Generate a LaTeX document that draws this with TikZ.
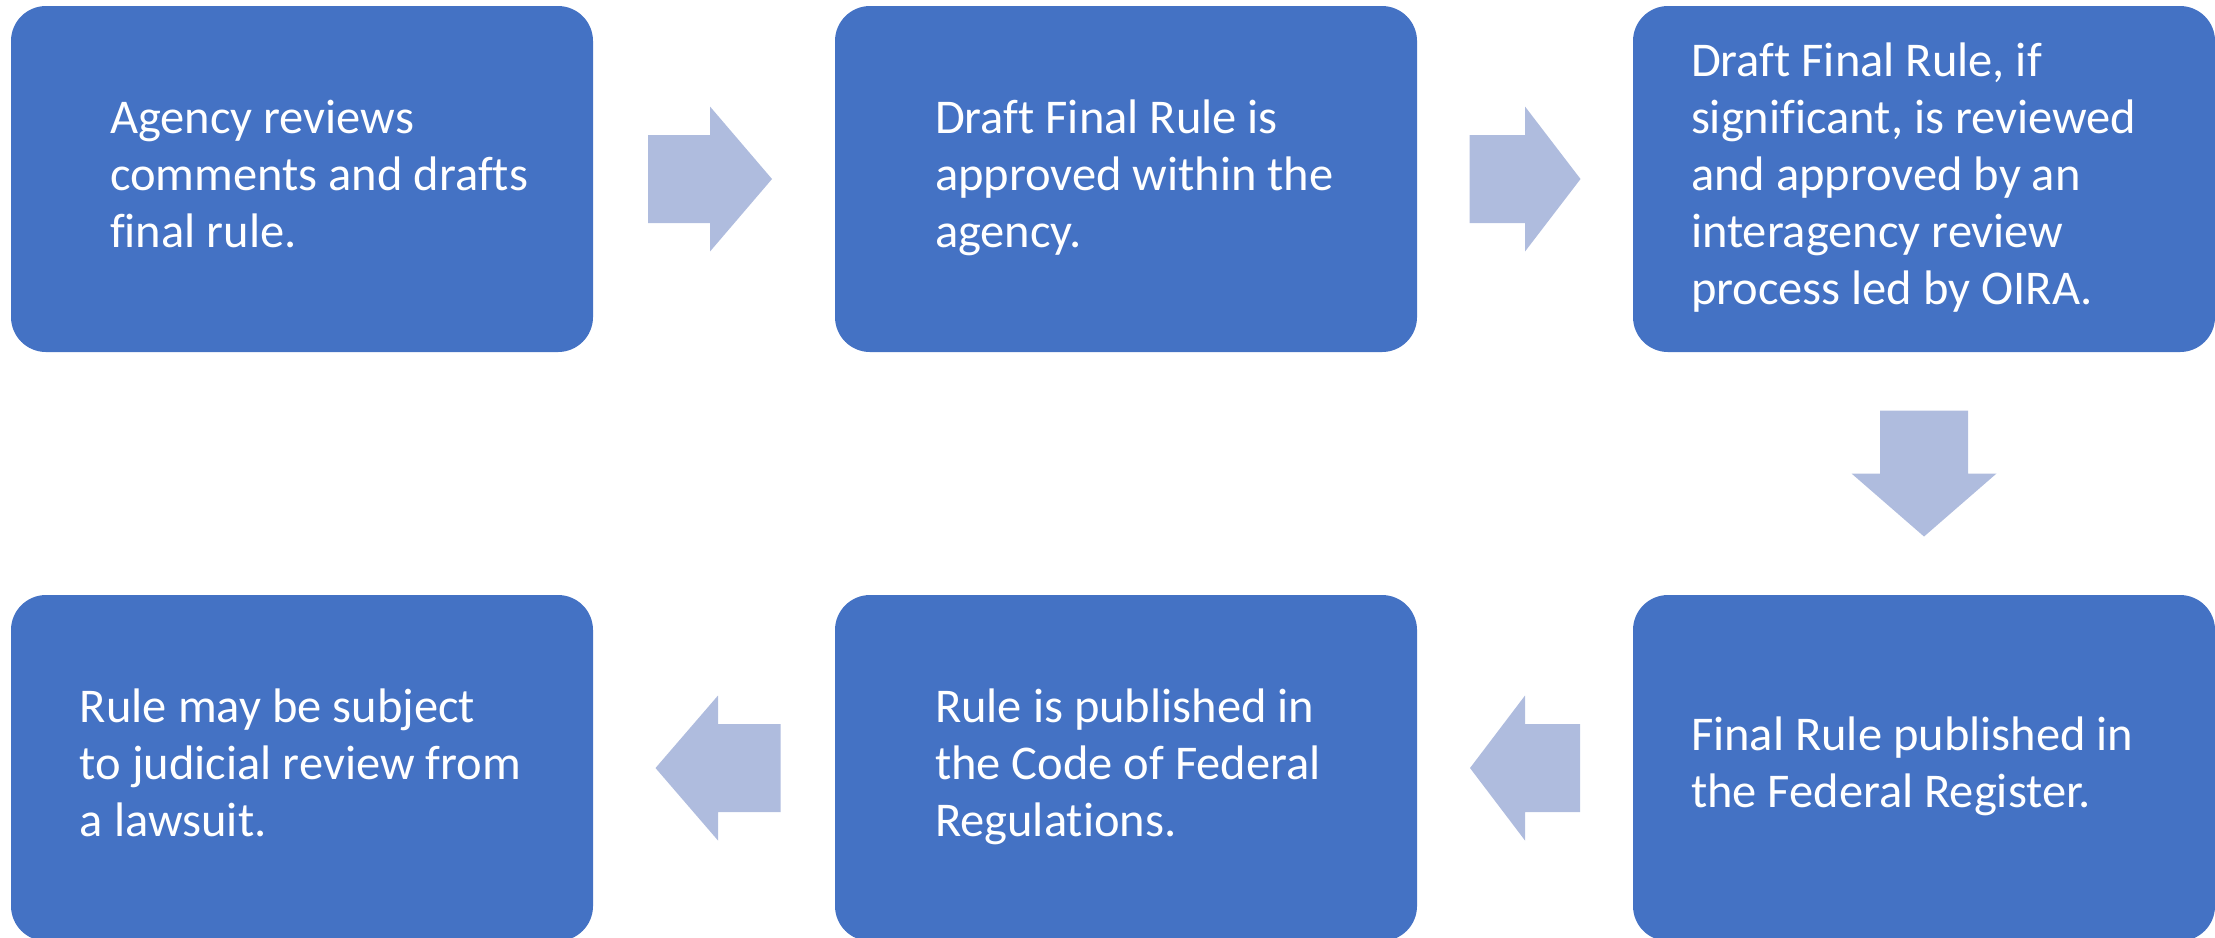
\documentclass[tikz,border=0pt]{standalone}
\usepackage{fontspec}
\setmainfont{Carlito}[Ligatures=NoCommon]
\usetikzlibrary{positioning}
\usetikzlibrary{calc}

\definecolor{stepblue}{RGB}{68,114,196}
\definecolor{flowblue}{RGB}{175,188,222}

\begin{document}
\begin{tikzpicture}
  \tikzset{stepbox/.style={fill=stepblue, rounded corners=3.5mm, minimum width=5.82cm,
                           minimum height=3.46cm, inner sep=0pt},
           steptext/.style={text=white, align=left, inner sep=0pt,
                            font=\fontsize{13.8}{16.2}\selectfont},
           pics/flowarrow/.style={code={
             \fill[flowblue] ({-#1/2},-0.44) -- (0,-0.44) -- (0,-0.725) -- ({#1/2},0)
               -- (0,0.725) -- (0,0.44) -- ({-#1/2},0.44) -- cycle;}}}
  \useasboundingbox (0,0) rectangle (22.15,-9.37);

  % top row, left to right
  \node[stepbox] (agency) at (3.02,-1.79) {};
  \node[stepbox] (approval) at (11.26,-1.79) {};
  \node[stepbox] (oira) at (19.24,-1.79) {};
  % bottom row, right to left
  \node[stepbox] (register) at (19.24,-7.68) {};
  \node[stepbox] (cfr) at (11.26,-7.68) {};
  \node[stepbox] (lawsuit) at (3.02,-7.68) {};

  \node[steptext,right=0.99cm of agency.west] (agencytext)
    {Agency reviews\strut\\comments and drafts\\final rule.\strut};
  \node[steptext,right=1cm of approval.west] (approvaltext)
    {Draft Final Rule is\strut\\approved within the\\agency.\strut};
  \node[steptext,right=0.58cm of oira.west] (oiratext)
    {Draft Final Rule, if\strut\\significant, is reviewed\\and approved by an\\interagency review\\process led by OIRA.\strut};
  \node[steptext,right=0.58cm of register.west] (registertext)
    {Final Rule published in\strut\\the Federal Register.\strut};
  \node[steptext,right=1cm of cfr.west] (cfrtext)
    {Rule is published in\strut\\the Code of Federal\\Regulations.\strut};
  \node[steptext,right=0.69cm of lawsuit.west] (lawsuittext)
    {Rule may be subject\strut\\to judicial review from\\a lawsuit.\strut};

  \pic at ($(agency.east)!0.5!(approval.west)+(-0.04,0)$) {flowarrow=1.24};
  \pic at ($(approval.east)!0.5!(oira.west)$) {flowarrow=1.11};
  \pic[rotate=-90] at ($(oira.south)!0.5!(register.north)$) {flowarrow=1.26};
  \pic[rotate=180] at ($(cfr.east)!0.5!(register.west)$) {flowarrow=1.10};
  \pic[rotate=180] at ($(lawsuit.east)!0.5!(cfr.west)+(0.04,0)$) {flowarrow=1.25};
\end{tikzpicture}
\end{document}
